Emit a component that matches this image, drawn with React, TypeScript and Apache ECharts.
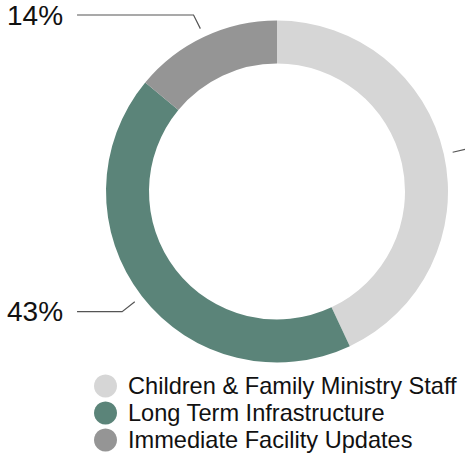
import React, { useEffect, useRef } from "react";
import * as echarts from "echarts";

const categories = [
  "Children & Family Ministry Staff",
  "Long Term Infrastructure",
  "Immediate Facility Updates",
];
const values = [43, 43, 14];
const colors = ["#d6d6d6", "#5b8479", "#959595"];

const FONT = "'Liberation Sans', Arial, Helvetica, sans-serif";

export default function App() {
  const ref = useRef<HTMLDivElement>(null);

  useEffect(() => {
    if (!ref.current) return;
    const chart = echarts.init(ref.current, null, { renderer: "svg" });
    const data = categories.map((name, i) => ({
      name,
      value: values[i],
      itemStyle: { color: colors[i] },
    }));
    chart.setOption({
      animation: false,
      backgroundColor: "#ffffff",
      legend: {
        orient: "vertical",
        left: 89,
        top: 369,
        icon: "circle",
        itemWidth: 23,
        itemHeight: 23,
        itemGap: 3,
        selectedMode: false,
        data: categories.map((name, i) => ({
          name,
          itemStyle: { color: colors[i] },
        })),
        textStyle: {
          fontFamily: FONT,
          fontSize: 23.6,
          lineHeight: 24,
          color: "#111111",
          padding: [0, 0, 0, 6],
        },
      },
      series: [
        {
          type: "pie",
          center: [277, 191.5],
          radius: [128, 171],
          startAngle: 90,
          clockwise: true,
          silent: true,
          label: { show: false },
          labelLine: { show: false },
          data,
        },
        {
          type: "pie",
          left: 0,
          top: 0,
          width: 554,
          height: 454,
          center: [277, 191.5],
          radius: [0, 180],
          startAngle: 90,
          clockwise: true,
          silent: true,
          itemStyle: { color: "rgba(0,0,0,0)" },
          data: categories.map((name, i) => ({
            name,
            value: values[i],
            itemStyle: { color: "rgba(0,0,0,0)" },
          })),
          label: {
            show: true,
            position: "outside",
            alignTo: "edge",
            edgeDistance: 7,
            distanceToLabelLine: 14,
            fontFamily: FONT,
            fontSize: 28,
            color: "#111111",
            formatter: (p: any) => Math.round(p.percent) + "%",
          },
          labelLine: {
            show: true,
            length: 16,
            length2: 20,
            lineStyle: { color: "#555555", width: 1.2 },
          },
        },
      ],
    });
    return () => chart.dispose();
  }, []);

  return (
    <div
      style={{
        position: "fixed",
        left: 0,
        top: 0,
        width: 465,
        height: 454,
        overflow: "hidden",
        background: "#fff",
      }}
    >
      <div ref={ref} style={{ width: 554, height: 540 }} />
    </div>
  );
}
